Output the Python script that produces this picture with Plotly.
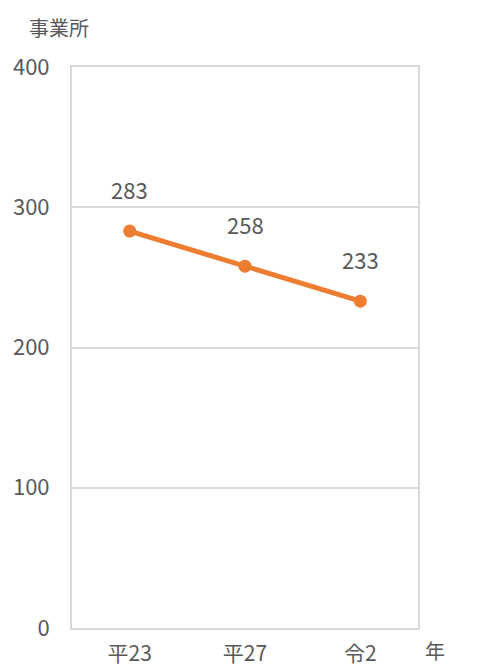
import plotly.graph_objects as go

categories = ["平23", "平27", "令2"]
values = [283, 258, 233]
y_ticks = [0, 100, 200, 300, 400]

FONT = "Noto Sans CJK JP"
TXT = "#595959"
GRID = "#d9d9d9"
LINE = "#ED7D31"

fig = go.Figure()
fig.add_trace(go.Scatter(
    x=categories, y=values, mode="lines+markers",
    line=dict(color=LINE, width=5),
    marker=dict(color=LINE, size=13),
    hoverinfo="skip",
))
for c, v in zip(categories, values):
    fig.add_annotation(x=c, y=v, text=str(v), showarrow=False, yshift=42,
                       font=dict(family=FONT, size=22, color=TXT))

fig.add_annotation(xref="paper", yref="paper", x=-0.13, y=1.0, yshift=40,
                   text="事業所", showarrow=False, xanchor="left", yanchor="middle",
                   font=dict(family=FONT, size=20, color=TXT))
fig.add_annotation(xref="paper", yref="paper", x=1.0, y=0, xshift=6, yshift=-22,
                   text="年", showarrow=False, xanchor="left", yanchor="middle",
                   borderpad=0,
                   font=dict(family=FONT, size=20, color=TXT))

# page body has an 8px margin; size figure so plot area lands where the reference has it
fig.update_layout(
    width=469, height=658,
    margin=dict(l=64, r=59, t=59, b=38),
    paper_bgcolor="white", plot_bgcolor="white",
    showlegend=False,
    font=dict(family=FONT, size=21, color=TXT),
)
fig.update_xaxes(
    type="category", range=[-0.5, 2.5], automargin=False,
    showgrid=False, showline=True, linecolor=GRID, linewidth=2, mirror=True,
    ticks="", ticklabelstandoff=6,
    tickfont=dict(family=FONT, size=21, color=TXT),
)
fig.update_yaxes(
    range=[0, 400], tickvals=y_ticks, automargin=False,
    showgrid=True, gridcolor=GRID, gridwidth=2,
    showline=True, linecolor=GRID, linewidth=2, mirror=True,
    zeroline=False, ticks="", ticklabelstandoff=16,
    tickfont=dict(family=FONT, size=22, color=TXT),
)

fig.write_html("out.html")
